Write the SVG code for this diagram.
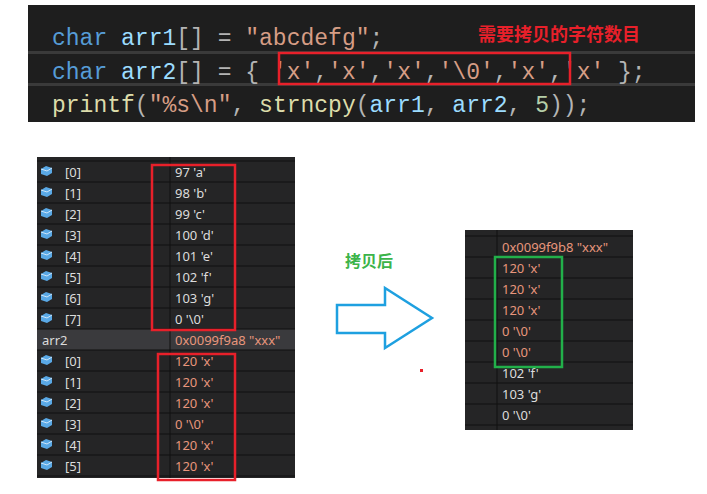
<svg xmlns="http://www.w3.org/2000/svg" width="707" height="494" viewBox="0 0 707 494">
<style>
.code{font-family:"Liberation Mono",monospace;font-size:23px}
.kw{fill:#569cd6}.id{fill:#9cdcfe}.op{fill:#b4b4b4}.st{fill:#d69d85}.fn{fill:#dcdcaa}.nm{fill:#b5cea8}
.t{font-family:"Noto Sans","Liberation Sans",sans-serif;font-size:13px;fill:#dcdcdc}
.v2{fill:#e8967c}
.row{stroke:#111;stroke-width:1}
</style>
<defs>
<g id="ico"><path d="M0,3 L5,0 L11,2 L11,7 L6,10 L0,8 Z" fill="#5aa9e6"/><path d="M0,3 L6,5 L11,2" fill="none" stroke="#cde6fa" stroke-width="1"/></g>
</defs>
<rect width="707" height="494" fill="#fff"/>
<g id="code">
<rect x="28" y="5" width="667" height="117" fill="#1e1e1e"/>
<rect x="28" y="51" width="667" height="3" fill="#3a3a3a"/>
<rect x="28" y="83" width="667" height="3" fill="#3a3a3a"/>
<text class="code" x="52" y="45" xml:space="preserve"><tspan class="kw">char</tspan> <tspan class="id">arr1</tspan><tspan class="op">[] = </tspan><tspan class="st">"abcdefg"</tspan><tspan class="op">;</tspan></text>
<text class="code" x="52" y="79" xml:space="preserve"><tspan class="kw">char</tspan> <tspan class="id">arr2</tspan><tspan class="op">[] = { </tspan><tspan class="st">'x'</tspan><tspan class="op">,</tspan><tspan class="st">'x'</tspan><tspan class="op">,</tspan><tspan class="st">'x'</tspan><tspan class="op">,</tspan><tspan class="st">'\0'</tspan><tspan class="op">,</tspan><tspan class="st">'x'</tspan><tspan class="op">,</tspan><tspan class="st">'x'</tspan><tspan class="op"> };</tspan></text>
<text class="code" x="52" y="112" xml:space="preserve"><tspan class="fn">printf</tspan><tspan class="op">(</tspan><tspan class="st">"%s\n"</tspan><tspan class="op">, </tspan><tspan class="fn">strncpy</tspan><tspan class="op">(</tspan><tspan class="id">arr1</tspan><tspan class="op">, </tspan><tspan class="id">arr2</tspan><tspan class="op">, </tspan><tspan class="nm">5</tspan><tspan class="op">));</tspan></text>
<text x="478" y="41" font-family="'Noto Sans CJK SC',sans-serif" font-size="18" font-weight="bold" fill="#e8202a">需要拷贝的字符数目</text>
<rect x="279" y="53" width="291" height="31" fill="none" stroke="#e8202a" stroke-width="2.5"/>
</g>
<g id="left-table">
<rect x="37" y="157" width="258" height="321" fill="#252526"/>
<rect x="37" y="329" width="258" height="21" fill="#3a3a3d"/>
<line x1="170" y1="157" x2="170" y2="478" stroke="#111"/>
<g class="row">
<line x1="37" y1="161" x2="295" y2="161"/><line x1="37" y1="182" x2="295" y2="182"/><line x1="37" y1="203" x2="295" y2="203"/><line x1="37" y1="224" x2="295" y2="224"/><line x1="37" y1="245" x2="295" y2="245"/><line x1="37" y1="266" x2="295" y2="266"/><line x1="37" y1="287" x2="295" y2="287"/><line x1="37" y1="308" x2="295" y2="308"/><line x1="37" y1="329" x2="295" y2="329"/><line x1="37" y1="350" x2="295" y2="350"/><line x1="37" y1="371" x2="295" y2="371"/><line x1="37" y1="392" x2="295" y2="392"/><line x1="37" y1="413" x2="295" y2="413"/><line x1="37" y1="434" x2="295" y2="434"/><line x1="37" y1="455" x2="295" y2="455"/><line x1="37" y1="476" x2="295" y2="476"/>
</g>
<use href="#ico" x="41" y="166"/><use href="#ico" x="41" y="187"/><use href="#ico" x="41" y="208"/><use href="#ico" x="41" y="229"/><use href="#ico" x="41" y="250"/><use href="#ico" x="41" y="271"/><use href="#ico" x="41" y="292"/><use href="#ico" x="41" y="313"/>
<use href="#ico" x="41" y="355"/><use href="#ico" x="41" y="376"/><use href="#ico" x="41" y="397"/><use href="#ico" x="41" y="418"/><use href="#ico" x="41" y="439"/><use href="#ico" x="41" y="460"/>
<g class="t">
<text x="65" y="177">[0]</text><text x="65" y="198">[1]</text><text x="65" y="219">[2]</text><text x="65" y="240">[3]</text><text x="65" y="261">[4]</text><text x="65" y="282">[5]</text><text x="65" y="303">[6]</text><text x="65" y="324">[7]</text>
<text x="42" y="345">arr2</text>
<text x="65" y="366">[0]</text><text x="65" y="387">[1]</text><text x="65" y="408">[2]</text><text x="65" y="429">[3]</text><text x="65" y="450">[4]</text><text x="65" y="471">[5]</text>
<text x="175" y="177">97 'a'</text><text x="175" y="198">98 'b'</text><text x="175" y="219">99 'c'</text><text x="175" y="240">100 'd'</text><text x="175" y="261">101 'e'</text><text x="175" y="282">102 'f'</text><text x="175" y="303">103 'g'</text><text x="175" y="324">0 '\0'</text>
</g>
<g class="t v2">
<text x="175" y="345">0x0099f9a8 "xxx"</text>
<text x="175" y="366">120 'x'</text><text x="175" y="387">120 'x'</text><text x="175" y="408">120 'x'</text><text x="175" y="429">0 '\0'</text><text x="175" y="450">120 'x'</text><text x="175" y="471">120 'x'</text>
</g>
<rect x="152" y="165" width="83" height="165" fill="none" stroke="#e8202a" stroke-width="2.5"/>
<rect x="158" y="354" width="77" height="126" fill="none" stroke="#e8202a" stroke-width="2.5"/>
</g>
<g id="arrow">
<polygon points="337,305 385,305 385,288 432,318 385,348 385,333 337,333" fill="#fff" stroke="#1ea0e0" stroke-width="2.5"/>
<text x="345" y="267" font-family="'Noto Sans CJK SC',sans-serif" font-size="16" font-weight="bold" fill="#3cb44a">拷贝后</text>
<rect x="420" y="369" width="3" height="3" fill="#e8202a"/>
</g>
<g id="right-table">
<rect x="465" y="230" width="168" height="200" fill="#252526"/>
<line x1="497" y1="230" x2="497" y2="430" stroke="#111"/>
<g class="row">
<line x1="465" y1="236" x2="633" y2="236"/><line x1="465" y1="257" x2="633" y2="257"/><line x1="465" y1="278" x2="633" y2="278"/><line x1="465" y1="299" x2="633" y2="299"/><line x1="465" y1="320" x2="633" y2="320"/><line x1="465" y1="341" x2="633" y2="341"/><line x1="465" y1="362" x2="633" y2="362"/><line x1="465" y1="383" x2="633" y2="383"/><line x1="465" y1="404" x2="633" y2="404"/><line x1="465" y1="425" x2="633" y2="425"/>
</g>
<g class="t v2">
<text x="502" y="252">0x0099f9b8 "xxx"</text>
<text x="502" y="273">120 'x'</text><text x="502" y="294">120 'x'</text><text x="502" y="315">120 'x'</text><text x="502" y="336">0 '\0'</text><text x="502" y="357">0 '\0'</text>
</g>
<g class="t">
<text x="502" y="378">102 'f'</text><text x="502" y="399">103 'g'</text><text x="502" y="420">0 '\0'</text>
</g>
<rect x="495" y="257" width="67" height="110" fill="none" stroke="#22b04a" stroke-width="2.5"/>
</g>
</svg>
